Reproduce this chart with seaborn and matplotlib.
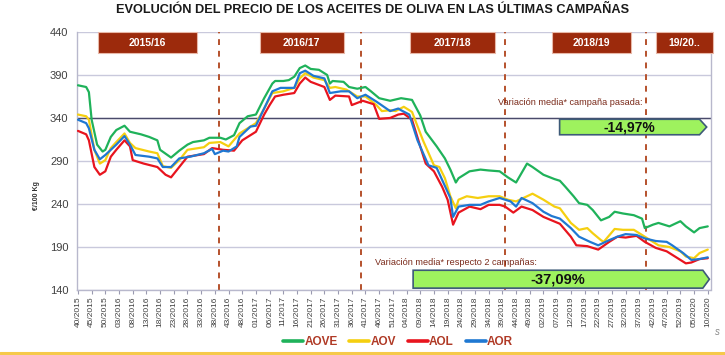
import pandas as pd
import matplotlib
matplotlib.use("Agg")
import matplotlib.pyplot as plt
import seaborn as sns
from matplotlib.patches import Rectangle, Polygon
from matplotlib.lines import Line2D

# semanas contadas desde la 40/2015 (0 = 40/2015)
week_labels = [
    "40/2015", "45/2015", "50/2015", "03/2016", "08/2016", "13/2016", "18/2016",
    "23/2016", "28/2016", "33/2016", "38/2016", "43/2016", "48/2016", "01/2017",
    "06/2017", "11/2017", "16/2017", "21/2017", "26/2017", "31/2017", "36/2017",
    "41/2017", "46/2017", "51/2017", "04/2018", "09/2018", "14/2018", "19/2018",
    "24/2018", "29/2018", "34/2018", "39/2018", "44/2018", "49/2018", "02/2019",
    "07/2019", "12/2019", "17/2019", "22/2019", "27/2019", "32/2019", "37/2019",
    "42/2019", "47/2019", "52/2019", "05/2020", "10/2020",
]

aove_weeks = [0, 3, 4, 5, 7, 9, 10, 12, 14, 17, 19, 23, 26, 29, 30, 34, 37, 40, 42, 46,
              48, 52, 54, 57, 59, 62, 65, 68, 71, 72, 75, 77, 79, 81, 83, 85, 88, 91, 92, 93,
              97, 99, 102, 105, 107, 110, 114, 118, 122, 125, 127, 131, 134, 136, 138, 139, 143, 147, 150, 154,
              157, 160, 162, 164, 166, 170, 174, 176, 178, 181, 183, 186, 188, 191, 194, 196, 199, 203, 206, 207,
              210, 212, 216, 220, 222, 225, 227, 230]
aove_price = [378, 376, 370, 338, 309, 301, 303, 318, 326, 331, 324, 321, 318, 314, 303, 294, 302, 309, 312, 314,
              317, 317, 315, 320, 334, 342, 344, 363, 380, 383, 383, 384, 388, 398, 401, 397, 396, 390, 380, 383,
              382, 376, 374, 376, 371, 363, 360, 363, 361, 343, 324, 307, 293, 280, 265, 270, 278, 280, 279, 278,
              271, 265, 276, 287, 283, 274, 269, 267, 260, 249, 241, 239, 233, 221, 225, 231, 229, 227, 223, 212,
              216, 218, 214, 220, 214, 207, 212, 214]

aov_weeks = [0, 3, 4, 6, 8, 10, 12, 14, 17, 19, 21, 26, 29, 31, 34, 37, 40, 46, 48, 52,
             55, 59, 63, 65, 68, 71, 75, 79, 81, 83, 86, 90, 92, 94, 98, 102, 105, 109, 111, 114,
             116, 119, 122, 126, 130, 132, 134, 136, 138, 139, 142, 146, 150, 154, 157, 160, 164, 166, 170, 174,
             176, 180, 183, 186, 188, 191, 192, 196, 199, 203, 206, 209, 212, 216, 220, 222, 225, 227, 230]
aov_price = [344, 342, 338, 303, 287, 291, 305, 312, 322, 311, 305, 301, 299, 284, 282, 291, 303, 306, 311, 312,
             307, 322, 330, 334, 351, 369, 371, 375, 386, 392, 387, 384, 375, 376, 373, 365, 365, 355, 348, 349,
             348, 353, 347, 314, 285, 283, 270, 249, 235, 245, 249, 247, 249, 249, 245, 243, 249, 252, 245, 237,
             235, 218, 210, 212, 206, 198, 196, 211, 210, 210, 204, 198, 192, 190, 185, 179, 177, 183, 187]

aol_weeks = [0, 3, 4, 6, 8, 10, 12, 14, 17, 19, 20, 24, 29, 32, 34, 37, 40, 46, 49, 53,
             57, 58, 60, 63, 65, 68, 70, 72, 75, 79, 81, 83, 85, 90, 92, 94, 99, 100, 104, 108,
             110, 114, 117, 119, 122, 125, 127, 130, 133, 135, 137, 139, 143, 147, 150, 154, 156, 159, 162, 166,
             170, 173, 176, 180, 182, 186, 190, 194, 197, 200, 204, 207, 211, 215, 219, 222, 224, 227, 230]
aol_price = [325, 321, 314, 283, 274, 278, 295, 303, 314, 307, 291, 287, 283, 274, 271, 283, 295, 298, 305, 303,
             302, 306, 314, 320, 324, 344, 355, 365, 367, 369, 380, 387, 382, 376, 361, 366, 365, 355, 360, 356,
             339, 340, 344, 345, 338, 307, 287, 278, 260, 245, 216, 230, 237, 234, 239, 239, 237, 230, 237, 233,
             225, 221, 217, 202, 192, 191, 187, 196, 202, 201, 203, 196, 189, 185, 177, 171, 172, 176, 177]

aor_weeks = [0, 3, 4, 6, 8, 10, 12, 14, 17, 19, 21, 26, 29, 31, 34, 37, 41, 46, 49, 50,
             53, 55, 58, 59, 63, 65, 68, 71, 74, 79, 81, 83, 86, 90, 92, 96, 99, 102, 105, 109,
             114, 117, 118, 121, 124, 128, 131, 133, 136, 137, 139, 143, 147, 150, 154, 158, 160, 162, 166, 170,
             173, 176, 180, 183, 187, 190, 194, 197, 200, 204, 207, 211, 215, 217, 221, 224, 227, 230]
aor_price = [338, 334, 328, 303, 292, 297, 303, 309, 319, 309, 297, 295, 293, 283, 283, 293, 295, 299, 304, 298,
             302, 301, 307, 318, 330, 331, 351, 371, 375, 375, 392, 395, 389, 386, 369, 371, 371, 363, 367, 359,
             348, 351, 349, 344, 314, 285, 282, 268, 247, 225, 237, 239, 239, 243, 247, 243, 237, 247, 241, 231,
             226, 223, 212, 202, 196, 192, 198, 202, 205, 204, 200, 197, 196, 192, 183, 175, 176, 178]

campaign_names = ["2015/16", "2016/17", "2017/18", "2018/19", "19/20.."]
campaign_starts = [51.6, 103.5, 156.0, 207.5]

series_names = ["AOVE", "AOV", "AOL", "AOR"]
colors = {"AOVE": "#1fb25a", "AOV": "#f5cf10", "AOL": "#e8141e", "AOR": "#1f78d2"}

frames = []
for name, w, p in zip(series_names,
                      [aove_weeks, aov_weeks, aol_weeks, aor_weeks],
                      [aove_price, aov_price, aol_price, aor_price]):
    frames.append(pd.DataFrame({"week": w, "price": p, "serie": name}))
df = pd.concat(frames, ignore_index=True)

sns.set_theme(style="white")
plt.rcParams["font.family"] = ["Liberation Sans", "DejaVu Sans"]

fig = plt.figure(figsize=(7.25, 3.55), dpi=100)
ax = fig.add_axes([0.106, 0.183, 0.874, 0.727])

# rejilla horizontal
for v in range(140, 441, 50):
    ax.axhline(v, color="#c9c9dc", lw=1.0, zorder=0)
ax.axhline(340, color="#4a4a6a", lw=1.0, zorder=1)

for xs in campaign_starts:
    ax.axvline(xs, color="#b5512c", lw=1.4, ls=(0, (3, 3)), zorder=1)

sns.lineplot(data=df, x="week", y="price", hue="serie", hue_order=series_names,
             palette=colors, estimator=None, lw=1.6, legend=False, ax=ax, zorder=3)

ax.set_xlim(-0.4, 231)
ax.set_ylim(140, 440)
ax.set_yticks(range(140, 441, 50))
ax.set_xticks(range(0, 231, 5))
ax.set_xticklabels(week_labels, rotation=90, fontsize=6, color="#404040")
ax.tick_params(axis="y", labelsize=8, colors="#404040", length=0, pad=6)
ax.tick_params(axis="x", length=3, width=0.8, color="#9a9ab0", pad=1.5, bottom=True)
ax.set_xlabel("")
ax.set_ylabel("")
ax.spines["top"].set_visible(False)
for side in ["left", "bottom", "right"]:
    ax.spines[side].set_color("#b8b8cc")
    ax.spines[side].set_linewidth(1.0)

# cajas de campaña
box_spans = [(7.2, 43.5), (66.4, 97.1), (121.2, 152.2), (173.2, 202.1), (211.2, 232.0)]
for (x0, x1), name in zip(box_spans, campaign_names):
    ax.add_patch(Rectangle((x0, 415.5), x1 - x0, 24.5, facecolor="#9c2a0c",
                           edgecolor="#e8b8a8", lw=0.8, zorder=4, clip_on=False))
    ax.text((x0 + x1) / 2, 427.5, name, ha="center", va="center", color="white",
            fontsize=7.5, fontweight="bold", zorder=5, clip_on=False)

# flechas verdes con la variación
def green_arrow(x0, x1, tip, y0, y1, label, size):
    ym = (y0 + y1) / 2
    ax.add_patch(Polygon([(x0, y0), (x1, y0), (tip, ym), (x1, y1), (x0, y1)],
                         closed=True, facecolor="#9ef25e", edgecolor="#3d5a78",
                         lw=1.2, zorder=6, clip_on=False))
    ax.text((x0 + x1) / 2, ym, label, ha="center", va="center", color="#111111",
            fontsize=size, fontweight="bold", zorder=7)

ax.text(153.3, 357.5, "Variación media* campaña pasada:", fontsize=6.6,
        color="#7a2a1a", va="center", zorder=6)
green_arrow(175.9, 227.0, 229.6, 320.5, 338.5, "-14,97%", 10)

ax.text(108.4, 171.7, "Variación media* respecto 2 campañas:", fontsize=6.6,
        color="#7a2a1a", va="center", zorder=6)
green_arrow(122.4, 228.2, 230.6, 142.2, 163.0, "-37,09%", 10.5)

fig.text(0.514, 0.972, "EVOLUCIÓN DEL PRECIO DE LOS ACEITES DE OLIVA EN LAS ÚLTIMAS CAMPAÑAS",
         ha="center", va="center", fontsize=9.2, fontweight="bold", color="#1a1a1a")
fig.text(0.051, 0.45, "€/100 Kg", rotation=90, ha="center", va="center",
         fontsize=5, fontweight="bold", color="#333333")

handles = [Line2D([0], [0], color=colors[n], lw=2.6) for n in series_names]
leg = fig.legend(handles, series_names, loc="center", bbox_to_anchor=(0.549, 0.036),
                 ncol=4, frameon=False, handlelength=1.7, handletextpad=0.1,
                 columnspacing=1.0, prop={"weight": "bold", "size": 8.5})
for t in leg.get_texts():
    t.set_color("#b03a26")

fig.add_artist(Line2D([0, 1], [0.006, 0.006], transform=fig.transFigure,
                      color="#f6c94a", lw=2.2))
fig.text(0.99, 0.065, "s", fontsize=7, color="#888888", ha="center", va="center", style="italic")

fig.savefig("out.png", dpi=100)
